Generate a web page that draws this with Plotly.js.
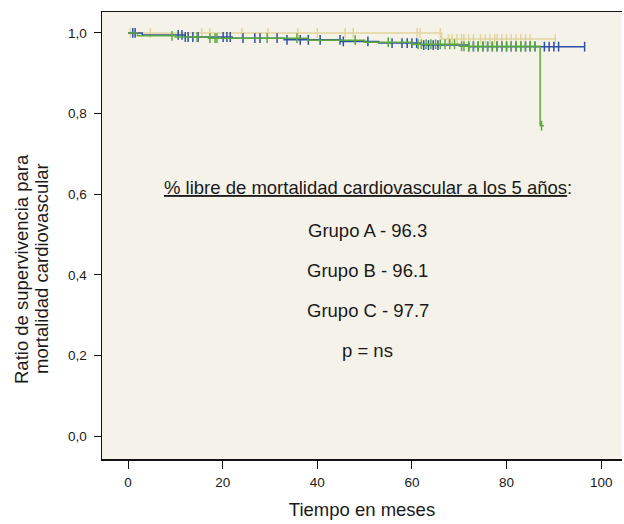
<!DOCTYPE html>
<html>
<head>
<meta charset="utf-8">
<script src="https://cdn.plot.ly/plotly-3.0.1.min.js"></script>
<style>html,body{margin:0;padding:0;background:#fff;}#chart{width:624px;height:524px;}</style>
</head>
<body>
<div id="chart"></div>
<script>
// Group A (blue)
const stepTimesA = [0, 3, 12, 22, 33, 45, 53, 62, 72];
const survA      = [1.0, 0.995, 0.99, 0.987, 0.983, 0.979, 0.975, 0.97, 0.966];
const endA = 96.5;
const censorA = [1, 1.5, 10.6, 11.4, 12.1, 12.7, 13.7, 14.8, 20.1, 20.9, 21.6, 24.3, 26.8, 27.9, 31.5, 33.6, 36.4, 38.1, 40.6, 44.8, 45.5, 50.7, 55.8, 57.9, 59, 60, 61, 62.5, 63.5, 64.5, 65.5, 72, 73, 74, 75, 76, 77, 78, 79, 80, 81, 82, 83, 84, 85, 86, 88, 89, 90, 91, 96.5];

// Group B (green)
const stepTimesB = [0, 2, 10, 17, 38, 50, 60, 70, 87.1];
const survB      = [1.0, 0.993, 0.99, 0.987, 0.982, 0.977, 0.972, 0.967, 0.77];
const endB = 87.9;
const censorB = [9.3, 14.6, 17.3, 18.4, 18.8, 29.4, 35.7, 48, 55, 61.3, 62, 63, 64, 65, 66, 67, 68, 69, 70.5, 71, 72, 73, 74, 75, 76, 77, 78, 79, 80, 81, 82, 83, 84, 85, 86, 87.4];

// Group C (yellow)
const stepTimesC = [0, 66.3];
const survC      = [1.0, 0.985];
const endC = 90.3;
const censorC = [0.5, 4.7, 15.6, 17.3, 24.1, 29.6, 35.9, 40, 45.9, 47.6, 61.1, 61.7, 66, 67.7, 68.5, 69.5, 70.5, 71, 72, 73, 74.5, 75.5, 76.5, 77.5, 78, 79, 80, 81, 82, 83, 84, 85, 90.3];

const xTicks = [0, 20, 40, 60, 80, 100];
const yTicks = [0, 0.2, 0.4, 0.6, 0.8, 1.0];

const yTitleLines = ['Ratio de supervivencia para', 'mortalidad cardiovascular'];
const annotationLines = [
  '<u>% libre de mortalidad cardiovascular a los 5 años</u>:',
  'Grupo A - 96.3',
  'Grupo B - 96.1',
  'Grupo C - 97.7',
  'p = ns'
];

function survAt(times, surv, t) {
  let s = surv[0];
  for (let i = 0; i < times.length; i++) { if (times[i] <= t) s = surv[i]; }
  return s;
}
function stepTrace(times, surv, end, color) {
  const x = times.concat([end]);
  const y = surv.concat([surv[surv.length - 1]]);
  return {x: x, y: y, mode: 'lines', line: {shape: 'hv', color: color, width: 1.5}, hoverinfo: 'skip', showlegend: false};
}
function censorTrace(times, surv, cens, color) {
  return {x: cens, y: cens.map(t => survAt(times, surv, t)), mode: 'markers',
    marker: {symbol: 'line-ns-open', size: 7, color: color, line: {color: color, width: 1.5}}, hoverinfo: 'skip', showlegend: false};
}

const colA = '#2d4fa6', colB = '#5aaa3c', colC = '#e2d49c';
const data = [
  stepTrace(stepTimesC, survC, endC, colC), censorTrace(stepTimesC, survC, censorC, colC),
  stepTrace(stepTimesA, survA, endA, colA), censorTrace(stepTimesA, survA, censorA, colA),
  stepTrace(stepTimesB, survB, endB, colB), censorTrace(stepTimesB, survB, censorB, colB)
];

const annYs = [0.6085, 0.5123, 0.4228, 0.3333, 0.2438];
const annotations = annotationLines.map((t, i) => ({
  text: t, xref: 'paper', yref: 'paper', x: 0.5115, y: annYs[i], showarrow: false,
  xanchor: 'center', yanchor: 'middle', font: {size: 18.5, color: '#1a1a1a'}
}));
const yTitleX = [-0.1558, -0.1173];
yTitleLines.forEach((t, i) => annotations.push({
  text: t, xref: 'paper', yref: 'paper', x: yTitleX[i], y: 0.425, textangle: -90, showarrow: false,
  xanchor: 'center', yanchor: 'middle', font: {size: 18.5, color: '#1a1a1a'}
}));

const layout = {
  width: 624, height: 524,
  margin: {l: 102, r: 2, t: 12, b: 65},
  paper_bgcolor: '#ffffff', plot_bgcolor: '#f5f2ea',
  font: {family: 'Liberation Sans, Arial, sans-serif', color: '#1a1a1a'},
  separators: ', ',
  showlegend: false,
  xaxis: {
    range: [-5.5, 104.4], tickvals: xTicks, ticks: 'outside', ticklen: 8, tickcolor: '#111',
    showgrid: false, zeroline: false, showline: true, linecolor: '#111', linewidth: 1.5, mirror: true,
    tickfont: {size: 13.5}, ticklabelstandoff: 2,
    title: {text: 'Tiempo en meses', font: {size: 18.5}, standoff: 14}
  },
  yaxis: {
    range: [-0.057, 1.052], tickvals: yTicks, tickformat: '.1f', ticks: 'outside', ticklen: 7, tickcolor: '#111',
    showgrid: false, zeroline: false, showline: true, linecolor: '#111', linewidth: 1.5, mirror: false,
    tickfont: {size: 13.5}, ticklabelstandoff: 4
  },
  annotations: annotations
};

Plotly.newPlot('chart', data, layout, {displayModeBar: false, staticPlot: true});
</script>
</body>
</html>
